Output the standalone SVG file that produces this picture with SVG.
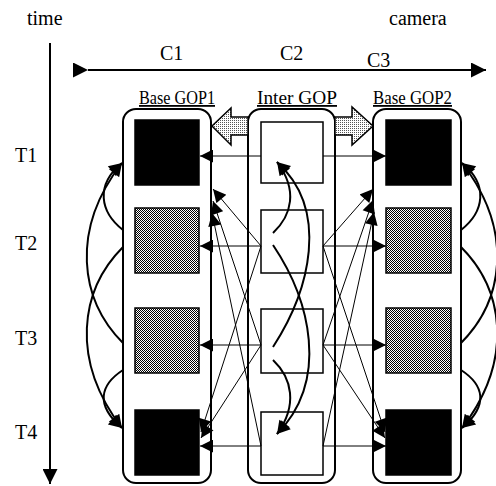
<svg xmlns="http://www.w3.org/2000/svg" width="496" height="486" viewBox="0 0 496 486">
<defs>
<style>
text{font-family:"Liberation Serif","Times New Roman",serif;font-size:20px;fill:#000}
.lbl{font-size:18px;text-decoration:underline}
.cont{fill:none;stroke:#000;stroke-width:2}
.blk{fill:#000;stroke:#000;stroke-width:1.5}
.gry{fill:url(#dither);stroke:#000;stroke-width:1.5}
.wht{fill:#fff;stroke:#000;stroke-width:1.5}
.thin{fill:none;stroke:#000;stroke-width:1;marker-end:url(#ah)}
.crv{fill:none;stroke:#000;stroke-width:2;marker-end:url(#ah)}
.big{fill:url(#light);stroke:#000;stroke-width:1.5}
.axis{fill:none;stroke:#000;stroke-width:2}
</style>
<pattern id="dither" width="2" height="2" patternUnits="userSpaceOnUse"><rect width="2" height="2" fill="#fff"/><rect width="1" height="1" fill="#000"/><rect x="1" y="1" width="1" height="1" fill="#000"/></pattern>
<pattern id="light" width="2" height="2" patternUnits="userSpaceOnUse"><rect width="2" height="2" fill="#fff"/><rect width="1" height="1" fill="#555"/></pattern>
<marker id="ah" viewBox="0 0 10 10" refX="10" refY="5" markerWidth="15" markerHeight="13" markerUnits="userSpaceOnUse" orient="auto"><path d="M0,0 L10,5 L0,10 z" fill="#000"/></marker>
<marker id="axh" viewBox="0 0 10 10" refX="10" refY="5" markerWidth="17" markerHeight="15" markerUnits="userSpaceOnUse" orient="auto"><path d="M0,0 L10,5 L0,10 z" fill="#000"/></marker>
</defs>

<g id="labels">
<text x="27" y="25">time</text>
<text x="389" y="25">camera</text>
<text x="160" y="60">C1</text>
<text x="280" y="60">C2</text>
<text x="367" y="67">C3</text>
<text x="15" y="162">T1</text>
<text x="15" y="250">T2</text>
<text x="15" y="345">T3</text>
<text x="15" y="439">T4</text>
</g>

<g id="axes">
<line class="axis" x1="50" y1="43" x2="50" y2="484" marker-end="url(#axh)"/>
<line class="axis" x1="88" y1="70" x2="486" y2="70" marker-start="url(#axh)" marker-end="url(#axh)"/>
</g>

<g id="base-gop1">
<text class="lbl" x="139" y="104" textLength="76" lengthAdjust="spacingAndGlyphs">Base GOP1</text>
<rect class="cont" x="123" y="109" width="88" height="374" rx="13"/>
<rect class="blk" x="135" y="120" width="64" height="65"/>
<rect class="gry" x="135" y="208" width="64" height="65"/>
<rect class="gry" x="135" y="308" width="64" height="65"/>
<rect class="blk" x="135" y="410" width="64" height="65"/>
</g>

<g id="inter-gop">
<text class="lbl" x="257" y="104" textLength="80" lengthAdjust="spacingAndGlyphs">Inter GOP</text>
<rect class="cont" x="248" y="109" width="87" height="374" rx="13"/>
<rect class="wht" x="261" y="122" width="62" height="61"/>
<rect class="wht" x="261" y="210" width="62" height="63"/>
<rect class="wht" x="261" y="309" width="62" height="64"/>
<rect class="wht" x="261" y="412" width="62" height="63"/>
</g>

<g id="base-gop2">
<text class="lbl" x="373" y="104" textLength="79" lengthAdjust="spacingAndGlyphs">Base GOP2</text>
<rect class="cont" x="373" y="109" width="88" height="374" rx="13"/>
<rect class="blk" x="386" y="120" width="65" height="65"/>
<rect class="gry" x="386" y="208" width="65" height="65"/>
<rect class="gry" x="386" y="308" width="65" height="65"/>
<rect class="blk" x="386" y="410" width="65" height="65"/>
</g>

<g id="connectors">
<polygon class="big" points="248,117 231,117 231,108 212,126 231,145 231,135 248,135"/>
<polygon class="big" points="335,117 352,117 352,107 373,126 352,145 352,135 335,135"/>

<line class="thin" x1="261" y1="156" x2="200" y2="156"/>
<line class="thin" x1="261" y1="246" x2="200" y2="246"/>
<line class="thin" x1="261" y1="345" x2="200" y2="345"/>
<line class="thin" x1="261" y1="446" x2="200" y2="446"/>
<line class="thin" x1="323" y1="156" x2="386" y2="156"/>
<line class="thin" x1="323" y1="246" x2="386" y2="246"/>
<line class="thin" x1="323" y1="345" x2="386" y2="345"/>
<line class="thin" x1="323" y1="446" x2="386" y2="446"/>

<line class="thin" x1="261" y1="246" x2="213" y2="189"/>
<line class="thin" x1="261" y1="345" x2="213" y2="201"/>
<line class="thin" x1="261" y1="446" x2="212" y2="213"/>
<line class="thin" x1="261" y1="246" x2="201" y2="432"/>
<line class="thin" x1="261" y1="345" x2="201" y2="438"/>
<line class="thin" x1="323" y1="246" x2="373" y2="189"/>
<line class="thin" x1="323" y1="345" x2="373" y2="200"/>
<line class="thin" x1="323" y1="446" x2="374" y2="212"/>
<line class="thin" x1="323" y1="246" x2="385" y2="432"/>
<line class="thin" x1="323" y1="345" x2="385" y2="438"/>

<path class="crv" d="M273,233 C292,215 298,190 277,162"/>
<path class="crv" d="M273,347 C310,290 330,210 277,162"/>
<path class="crv" d="M273,245 C310,300 330,380 277,434"/>
<path class="crv" d="M273,360 C292,378 298,405 277,434"/>

<path class="crv" d="M123,230 C100,212 95,185 122,163"/>
<path class="crv" d="M123,343 C80,300 70,230 122,163"/>
<path class="crv" d="M123,247 C80,290 70,360 122,428"/>
<path class="crv" d="M123,370 C100,385 95,405 122,428"/>

<path class="crv" d="M461,230 C484,212 489,185 462,163"/>
<path class="crv" d="M461,343 C504,300 514,230 462,163"/>
<path class="crv" d="M461,247 C504,290 514,360 462,428"/>
<path class="crv" d="M461,370 C484,385 489,405 462,428"/>
</g>
</svg>
